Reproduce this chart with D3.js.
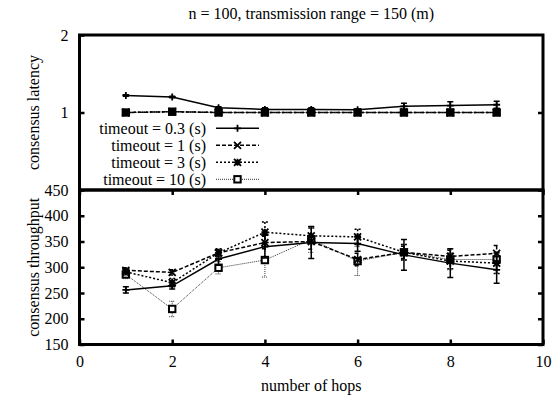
<!DOCTYPE html>
<html><head><meta charset="utf-8">
<script src="https://cdn.jsdelivr.net/npm/d3@7"></script>
<style>
body{margin:0;background:#fff;}
svg text{font-family:'Liberation Serif', 'Times New Roman', Times, serif !important;fill:#000;}
</style>
</head><body>
<svg id="c" width="553" height="397" font-family="Liberation Serif, serif"></svg>
<script>
const hops = [1,2,3,4,5,6,7,8,9];
const seriesNames = ["timeout = 0.3 (s)","timeout = 1 (s)","timeout = 3 (s)","timeout = 10 (s)"];
// consensus latency (top)
const lat03 = [1.22,1.20,1.06,1.04,1.04,1.035,1.08,1.09,1.10];
const lat03Err = [0.01,0.01,0.015,0.02,0.02,0.01,0.04,0.05,0.045];
const lat1 = [1.0,1.01,1.0,1.0,1.0,1.0,1.0,1.0,1.0];
const lat1Err = [0.005,0.005,0.005,0.005,0.005,0.005,0.005,0.005,0.005];
const lat3 = [1.0,1.01,1.0,1.0,1.0,1.0,1.0,1.0,1.0];
const lat3Err = [0.005,0.005,0.005,0.005,0.005,0.005,0.005,0.005,0.005];
const lat10 = [1.0,1.01,1.0,1.0,1.0,1.0,1.0,1.0,1.0];
const lat10Err = [0.005,0.005,0.005,0.005,0.005,0.005,0.005,0.005,0.005];
// consensus throughput (bottom)
const thr03 = [256,264,316,340,348,346,324,308,295];
const thr03Err = [6,6,12,22,31,15,30,28,26];
const thr1 = [294,290,328,348,350,315,329,321,327];
const thr1Err = [5,5,6,12,15,12,12,12,15];
const thr3 = [291,270,328,368,361,359,329,312,308];
const thr3Err = [6,8,8,20,15,15,15,15,20];
const thr10 = [286,219,299,314,354,312,329,315,315];
const thr10Err = [8,15,12,33,25,28,15,20,12];
const xTicks = [0,2,4,6,8,10];
const yTopTicks = [1,2];
const yBotTicks = [150,200,250,300,350,400,450];

const FONT = "'Liberation Serif', 'Times New Roman', Times, serif";
const styles = [
  {dash:null, w:1.5, color:"#000", mk:"plus"},
  {dash:"4,2", w:1.5, color:"#000", mk:"cross"},
  {dash:"2,2", w:1.5, color:"#000", mk:"star"},
  {dash:"1,1", w:1, color:"#333", mk:"square"}
];

const svg = d3.select("#c");
const L=79.5, R=543, T=35, M=190, B=344.5;
const x = d3.scaleLinear().domain([0,10]).range([L,R]);
const yT = d3.scaleLinear().domain([0,2]).range([M,T]);
const yB = d3.scaleLinear().domain([150,450]).range([B,M]);

function txt(sel){ return sel.style("font-family",FONT).style("font-size","16px").attr("fill","#000"); }

txt(svg.append("text").attr("x",(L+R)/2).attr("y",13).attr("text-anchor","middle")
  .attr("dominant-baseline","central"))
  .text("n = 100, transmission range = 150 (m)");

function styleAxis(g){
  g.attr("font-family",null).attr("font-size",null);
  g.select(".domain").remove();
  g.selectAll(".tick line").attr("stroke","#000").attr("stroke-width",2.5);
  txt(g.selectAll(".tick text"));
}
// top panel axes
svg.append("g").attr("transform",`translate(${L},0)`)
  .call(d3.axisLeft(yT).tickValues(yTopTicks).tickSizeInner(-5).tickSizeOuter(0).tickPadding(11).tickFormat(d3.format("d")))
  .call(styleAxis);
svg.append("g").attr("transform",`translate(${R},0)`)
  .call(d3.axisRight(yT).tickValues([1]).tickSizeInner(-5).tickSizeOuter(0).tickFormat(""))
  .call(styleAxis);
// bottom panel axes
svg.append("g").attr("transform",`translate(${L},0)`)
  .call(d3.axisLeft(yB).tickValues(yBotTicks).tickSizeInner(-5).tickSizeOuter(0).tickPadding(11).tickFormat(d3.format("d")))
  .call(styleAxis);
svg.append("g").attr("transform",`translate(${R},0)`)
  .call(d3.axisRight(yB).tickValues(yBotTicks).tickSizeInner(-5).tickSizeOuter(0).tickFormat(""))
  .call(styleAxis);
svg.append("g").attr("transform",`translate(0,${B})`)
  .call(d3.axisBottom(x).tickValues(xTicks).tickSizeInner(-5).tickSizeOuter(0).tickPadding(11).tickFormat(d3.format("d")))
  .call(styleAxis);
svg.append("g").attr("transform",`translate(0,${M})`)
  .call(d3.axisTop(x).tickValues(xTicks).tickSizeInner(-5).tickSizeOuter(0).tickFormat(""))
  .call(styleAxis);

txt(svg.append("text").attr("transform",`translate(33,${(T+M)/2}) rotate(-90)`)
  .attr("text-anchor","middle").attr("dominant-baseline","central"))
  .text("consensus latency");
txt(svg.append("text").attr("transform",`translate(33,${(M+B)/2}) rotate(-90)`)
  .attr("text-anchor","middle").attr("dominant-baseline","central"))
  .text("consensus throughput");
txt(svg.append("text").attr("x",(L+R)/2).attr("y",385).attr("text-anchor","middle")
  .attr("dominant-baseline","central")).text("number of hops");

function marker(g, type, cx, cy){
  const s=3.5;
  if(type==="plus"){
    g.append("path").attr("d",`M${cx-s},${cy}H${cx+s}M${cx},${cy-s}V${cy+s}`).attr("stroke","#000").attr("stroke-width",1.8).attr("fill","none");
  } else if(type==="cross"){
    g.append("path").attr("d",`M${cx-s},${cy-s}L${cx+s},${cy+s}M${cx-s},${cy+s}L${cx+s},${cy-s}`).attr("stroke","#000").attr("stroke-width",1.8).attr("fill","none");
  } else if(type==="star"){
    g.append("path").attr("d",`M${cx-s},${cy}H${cx+s}M${cx},${cy-s}V${cy+s}M${cx-s},${cy-s}L${cx+s},${cy+s}M${cx-s},${cy+s}L${cx+s},${cy-s}`).attr("stroke","#000").attr("stroke-width",1.8).attr("fill","none");
  } else {
    g.append("rect").attr("x",cx-3.2).attr("y",cy-3.2).attr("width",6.4).attr("height",6.4).attr("stroke","#000").attr("stroke-width",2).attr("fill","#fff");
  }
}

function drawSeries(ys, vals, errs, st){
  const g = svg.append("g");
  const line = d3.line().x((d,i)=>x(hops[i])).y(d=>ys(d));
  g.append("path").attr("d",line(vals)).attr("fill","none").attr("stroke",st.color)
    .attr("stroke-width",st.w).attr("stroke-dasharray",st.dash);
  vals.forEach((v,i)=>{
    const cx=x(hops[i]), y1=ys(v+errs[i]), y2=ys(v-errs[i]);
    g.append("path").attr("d",`M${cx},${y1}V${y2}M${cx-3},${y1}H${cx+3}M${cx-3},${y2}H${cx+3}`)
      .attr("stroke",st.color).attr("stroke-width",st.w).attr("fill","none").attr("stroke-dasharray",st.dash);
  });
  vals.forEach((v,i)=>marker(g, st.mk, x(hops[i]), ys(v)));
}
const topData=[[lat03,lat03Err],[lat1,lat1Err],[lat3,lat3Err],[lat10,lat10Err]];
const botData=[[thr03,thr03Err],[thr1,thr1Err],[thr3,thr3Err],[thr10,thr10Err]];
[3,2,1,0].forEach(k=>{
  drawSeries(yT, topData[k][0], topData[k][1], styles[k]);
  drawSeries(yB, botData[k][0], botData[k][1], styles[k]);
});

// legend
const legY=[128.3,145.3,162.3,179.3];
seriesNames.forEach((n,k)=>{
  const g=svg.append("g");
  txt(g.append("text").attr("x",206).attr("y",legY[k]).attr("text-anchor","end")
    .attr("dominant-baseline","central")).text(n);
  g.append("line").attr("x1",216).attr("x2",259).attr("y1",legY[k]).attr("y2",legY[k])
    .attr("stroke",styles[k].color).attr("stroke-width",styles[k].w).attr("stroke-dasharray",styles[k].dash);
  marker(g, styles[k].mk, 237.5, legY[k]);
});

// frames
svg.append("rect").attr("x",L).attr("y",T).attr("width",R-L).attr("height",M-T)
  .attr("fill","none").attr("stroke","#000").attr("stroke-width",3);
svg.append("rect").attr("x",L).attr("y",M).attr("width",R-L).attr("height",B-M)
  .attr("fill","none").attr("stroke","#000").attr("stroke-width",3);
</script>
</body></html>
